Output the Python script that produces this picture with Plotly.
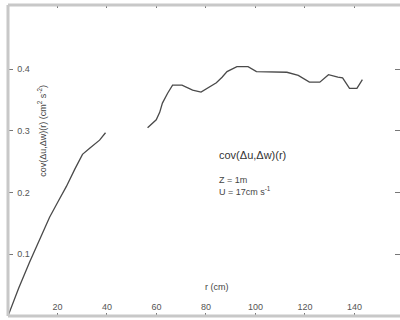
import plotly.graph_objects as go

# Data (r in cm, covariance in cm^2 s^-2)
r_seg1 = [0, 4.3, 8.7, 12.8, 16.8, 20.3, 23.6, 27.0, 30.1, 33.0, 37.0, 39.4]
cov_seg1 = [0.0, 0.045, 0.087, 0.125, 0.160, 0.186, 0.210, 0.238, 0.262, 0.272, 0.285, 0.297]

r_seg2 = [56.4, 59.9, 61.3, 62.4, 64.5, 66.5, 70.3, 74.6, 78.0, 81.4, 84.2, 86.5,
          88.5, 92.5, 97.0, 100.4, 106.0, 112.7, 117.3, 121.8, 126.0, 129.5,
          133.3, 135.2, 138.0, 141.0, 143.2]
cov_seg2 = [0.305, 0.318, 0.330, 0.345, 0.361, 0.374, 0.374, 0.366, 0.363, 0.372,
            0.378, 0.387, 0.396, 0.404, 0.404, 0.396, 0.396, 0.395, 0.390, 0.379,
            0.379, 0.391, 0.387, 0.386, 0.369, 0.369, 0.383]

x_ticks = [20, 40, 60, 80, 100, 120, 140]
y_ticks = [0.1, 0.2, 0.3, 0.4]
y_tick_text = ["0.1", "0.2", "0.3", "0.4"]

x_range = [0, 158.4]
y_range = [0, 0.504]

font_family = "Liberation Sans, Arial, sans-serif"
axis_gray = "#c8c8c8"
text_gray = "#555555"

fig = go.Figure()
fig.add_trace(go.Scatter(
    x=r_seg1 + [None] + r_seg2,
    y=cov_seg1 + [None] + cov_seg2,
    mode="lines",
    line=dict(color="#4a4a4a", width=1.3),
    connectgaps=False,
    showlegend=False,
    hoverinfo="skip",
))

fig.update_layout(
    width=400, height=320,
    margin=dict(l=8, r=0, t=5, b=4),
    paper_bgcolor="white", plot_bgcolor="white",
    font=dict(family=font_family, size=9, color=text_gray),
    xaxis=dict(
        range=x_range, tickvals=x_ticks, ticks="inside", ticklen=3,
        tickcolor="#777", tickwidth=1, ticklabelposition="inside",
        showgrid=False, zeroline=False, showline=False, mirror="ticks",
        tickfont=dict(size=9, color=text_gray),
    ),
    yaxis=dict(
        range=y_range, tickvals=y_ticks, ticktext=y_tick_text, ticks="inside",
        ticklen=5, tickcolor="#777", tickwidth=1, ticklabelposition="inside",
        ticklabelstandoff=3,
        showgrid=False, zeroline=False, showline=False, mirror="ticks",
        tickfont=dict(size=9, color=text_gray),
    ),
    shapes=[
        dict(type="line", xref="paper", yref="paper", x0=0, x1=0, y0=0, y1=1,
             line=dict(color=axis_gray, width=3)),
        dict(type="line", xref="paper", yref="paper", x0=0, x1=1, y0=0, y1=0,
             line=dict(color=axis_gray, width=3)),
        dict(type="line", xref="paper", yref="paper", x0=0, x1=1, y0=1, y1=1,
             line=dict(color=axis_gray, width=3)),
    ],
    annotations=[
        dict(x=13.9, y=0.301, xref="x", yref="y", showarrow=False, textangle=-90,
             text="cov(Δu,Δw)(r) (cm<sup>2</sup> s<sup>-2</sup>)",
             font=dict(size=9, color="#444")),
        dict(x=84.5, y=0.047, xref="x", yref="y", showarrow=False,
             text="r (cm)", font=dict(size=9, color="#444")),
        dict(x=84.5, y=0.261, xref="x", yref="y", showarrow=False, xanchor="left",
             text="cov(Δu,Δw)(r)", font=dict(size=11, color="#333")),
        dict(x=84.5, y=0.221, xref="x", yref="y", showarrow=False, xanchor="left",
             text="Z = 1m", font=dict(size=9, color="#444")),
        dict(x=84.5, y=0.203, xref="x", yref="y", showarrow=False, xanchor="left",
             text="U = 17cm s<sup>-1</sup>", font=dict(size=9, color="#444")),
    ],
)

fig.write_html("out.html")
